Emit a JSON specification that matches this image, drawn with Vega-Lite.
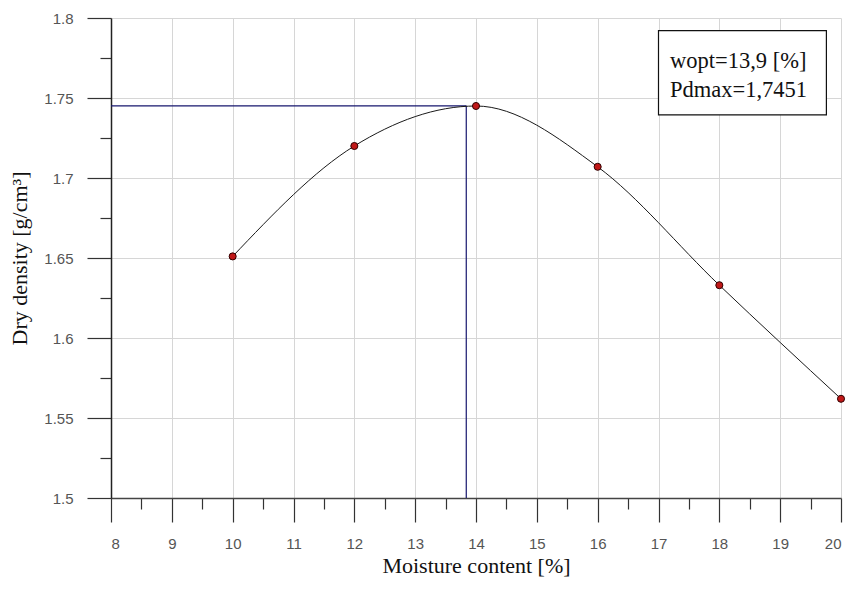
{
  "$schema": "https://vega.github.io/schema/vega-lite/v6.json",
  "autosize": "none",
  "width": 730,
  "height": 480,
  "padding": {"left": 111, "top": 18, "right": 14, "bottom": 92},
  "background": "white",
  "data": {
    "values": [
      {"moisture": 10, "density": 1.651},
      {"moisture": 12, "density": 1.720},
      {"moisture": 14, "density": 1.745},
      {"moisture": 16, "density": 1.707},
      {"moisture": 18, "density": 1.633},
      {"moisture": 20, "density": 1.562}
    ]
  },
  "resolve": {"axis": {"x": "independent", "y": "independent"}},
  "layer": [
    {
      "mark": {"type": "point", "opacity": 0},
      "encoding": {
        "x": {
          "field": "moisture", "type": "quantitative",
          "scale": {"domain": [8, 20], "nice": false, "zero": false},
          "axis": {
            "orient": "bottom", "values": [8.5, 9.5, 10.5, 11.5, 12.5, 13.5, 14.5, 15.5, 16.5, 17.5, 18.5, 19.5],
            "labels": false, "domain": false, "grid": false, "title": null,
            "tickSize": 11, "tickColor": "#333333", "tickWidth": 1.2
          }
        },
        "y": {
          "field": "density", "type": "quantitative",
          "scale": {"domain": [1.5, 1.8], "nice": false, "zero": false},
          "axis": {
            "orient": "left", "values": [1.525, 1.575, 1.625, 1.675, 1.725, 1.775],
            "labels": false, "domain": false, "grid": false, "title": null,
            "tickSize": 11, "tickColor": "#333333", "tickWidth": 1.2
          }
        }
      }
    },
    {
      "encoding": {
        "x": {
          "field": "moisture", "type": "quantitative",
          "scale": {"domain": [8, 20], "nice": false, "zero": false},
          "axis": {
            "orient": "bottom", "values": [8, 9, 10, 11, 12, 13, 14, 15, 16, 17, 18, 19, 20],
            "title": "Moisture content [%]", "grid": true,
            "tickSize": 24, "labelPadding": 14, "titlePadding": 4,
            "domainColor": "#444444", "domainWidth": 1.5,
            "tickColor": "#333333", "tickWidth": 1.2,
            "gridColor": "#d6d6d6", "gridWidth": 1,
            "labelFont": "Liberation Sans", "labelFontSize": 15, "labelColor": "#555555",
            "titleFont": "Liberation Serif", "titleFontSize": 22, "titleFontWeight": "normal", "titleColor": "#111111"
          }
        },
        "y": {
          "field": "density", "type": "quantitative",
          "scale": {"domain": [1.5, 1.8], "nice": false, "zero": false},
          "axis": {
            "orient": "left", "values": [1.5, 1.55, 1.6, 1.65, 1.7, 1.75, 1.8],
            "format": "~g",
            "title": "Dry density [g/cm³]", "grid": true,
            "tickSize": 24, "labelPadding": 14, "titlePadding": 12,
            "domainColor": "#222222", "domainWidth": 1.5,
            "tickColor": "#333333", "tickWidth": 1.2,
            "gridColor": "#d6d6d6", "gridWidth": 1,
            "labelFont": "Liberation Sans", "labelFontSize": 15, "labelColor": "#555555",
            "titleFont": "Liberation Serif", "titleFontSize": 22, "titleFontWeight": "normal", "titleColor": "#111111"
          }
        }
      },
      "layer": [
        {
          "transform": [{"filter": "datum.moisture == 14"}],
          "mark": {"type": "rule", "color": "#16166e", "strokeWidth": 1.2},
          "encoding": {
            "x": {"datum": 8},
            "x2": {"datum": 13.84},
            "y": {"datum": 1.7451}
          }
        },
        {
          "transform": [{"filter": "datum.moisture == 14"}],
          "mark": {"type": "rule", "color": "#16166e", "strokeWidth": 1.2},
          "encoding": {
            "x": {"datum": 13.84},
            "y": {"datum": 1.5},
            "y2": {"datum": 1.7451}
          }
        },
        {
          "mark": {"type": "line", "interpolate": "monotone", "color": "#1a1a1a", "strokeWidth": 1}
        },
        {
          "mark": {"type": "point", "shape": "circle", "filled": true, "fill": "#c01818", "stroke": "#300000", "strokeWidth": 1, "size": 50, "opacity": 1}
        },
        {
          "transform": [{"filter": "datum.moisture == 14"}],
          "mark": {"type": "rect", "fill": "white", "stroke": "#111111", "strokeWidth": 1.2},
          "encoding": {
            "x": {"datum": 17.0},
            "x2": {"datum": 19.76},
            "y": {"datum": 1.7921},
            "y2": {"datum": 1.7394}
          }
        },
        {
          "transform": [{"filter": "datum.moisture == 14"}],
          "mark": {"type": "text", "align": "left", "baseline": "alphabetic", "font": "Liberation Serif", "fontSize": 22.5, "fontWeight": 400, "fill": "#111111", "text": "wopt=13,9 [%]"},
          "encoding": {
            "x": {"datum": 17.19},
            "y": {"datum": 1.7688}
          }
        },
        {
          "transform": [{"filter": "datum.moisture == 14"}],
          "mark": {"type": "text", "align": "left", "baseline": "alphabetic", "font": "Liberation Serif", "fontSize": 22.5, "fontWeight": 400, "fill": "#111111", "text": "Pdmax=1,7451"},
          "encoding": {
            "x": {"datum": 17.19},
            "y": {"datum": 1.7506}
          }
        }
      ]
    }
  ],
  "config": {
    "view": {"stroke": null}
  }
}
